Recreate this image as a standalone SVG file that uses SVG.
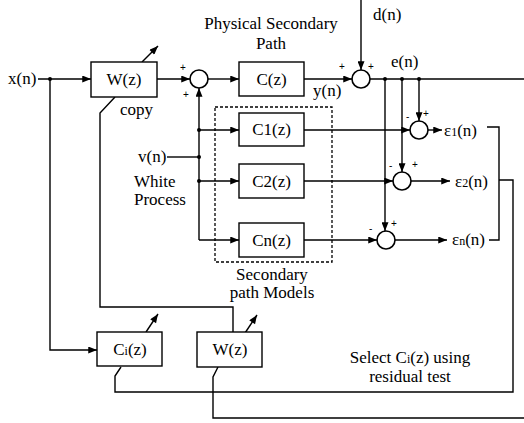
<svg xmlns="http://www.w3.org/2000/svg" width="524" height="423" viewBox="0 0 524 423">
<defs>
<marker id="ah" viewBox="0 0 10 8" refX="10" refY="4" markerWidth="10" markerHeight="7" markerUnits="userSpaceOnUse" orient="auto">
<path d="M0,0 L10,4 L0,8 Z" fill="#000"/>
</marker>
<style>
.ln{stroke:#000;stroke-width:1.4;fill:none}
.ar{stroke:#000;stroke-width:1.4;fill:none;marker-end:url(#ah)}
.box{fill:#fff;stroke:#000;stroke-width:1.4}
.sum{fill:#fff;stroke:#000;stroke-width:1.6}
.dash{fill:none;stroke:#000;stroke-width:1.3;stroke-dasharray:3,2}
.dot{fill:#000}
text{font-family:"Liberation Serif","Times New Roman",serif;font-size:17px;fill:#000}
.m{text-anchor:middle}
.sg{font-size:10px;font-family:"Liberation Sans",Arial,sans-serif}
.sub{font-size:12px}
</style>
</defs>
<rect width="524" height="423" fill="#fff"/>

<g id="connectors">
<path class="ar" d="M38,79 H91"/>
<path class="ar" d="M50,79 V350 H97"/>
<path class="ar" d="M157,79 H190"/>
<path class="ar" d="M208,79 H239"/>
<path class="ar" d="M304,79 H352"/>
<path class="ar" d="M361,0 V70"/>
<path class="ln" d="M370,79 H524"/>
<path class="ar" d="M419,79 V121"/>
<path class="ar" d="M402,79 V172"/>
<path class="ar" d="M385,79 V231"/>
<path class="ar" d="M304,130 H410"/>
<path class="ar" d="M304,181 H393"/>
<path class="ar" d="M304,240 H377"/>
<path class="ar" d="M199,240 V88"/>
<path class="ar" d="M199,240 H239"/>
<path class="ar" d="M199,130 H239"/>
<path class="ar" d="M199,181 H239"/>
<path class="ln" d="M167,157 H199"/>
<path class="ar" d="M428,130 H442"/>
<path class="ar" d="M411,181 H450"/>
<path class="ar" d="M395,240 H447"/>
<path class="ln" d="M487,127 H499 V240 H489"/>
<path class="ln" d="M499,180 H513 V392 H115 V376 L121,367"/>
<path class="ln" d="M218,367 L213,377 V418 H524"/>
<path class="ln" d="M115,97 L100,113 V307 H233 V332"/>
<path class="ar" d="M142,62 L158,46"/>
<path class="ar" d="M146,332 L158,314"/>
<path class="ar" d="M245,333 L257,315"/>
<circle class="dot" cx="50" cy="79" r="2"/>
<circle class="dot" cx="385" cy="79" r="2"/>
<circle class="dot" cx="402" cy="79" r="2"/>
<circle class="dot" cx="419" cy="79" r="2"/>
<circle class="dot" cx="199" cy="130" r="2"/>
<circle class="dot" cx="199" cy="157" r="2"/>
<circle class="dot" cx="199" cy="181" r="2"/>
</g>

<g id="dashed-models">
<rect class="dash" x="215" y="107" width="117" height="155"/>
<text class="m" x="272" y="280">Secondary</text>
<text class="m" x="272" y="298">path Models</text>
</g>

<g id="W1">
<rect class="box" x="91" y="62" width="66" height="35"/>
<text class="m" x="124" y="85">W(z)</text>
</g>
<g id="sum1">
<circle class="sum" cx="199" cy="79" r="9"/>
<text class="sg" x="180" y="71">+</text>
<text class="sg" x="183" y="98">+</text>
</g>
<g id="C">
<rect class="box" x="239" y="62" width="65" height="34"/>
<text class="m" x="271.5" y="85">C(z)</text>
</g>
<g id="sum2">
<circle class="sum" cx="361" cy="79" r="9"/>
<text class="sg" x="339" y="70">+</text>
<text class="sg" x="368" y="70">+</text>
</g>
<g id="C1">
<rect class="box" x="239" y="113" width="65" height="33"/>
<text class="m" x="271.5" y="135">C1(z)</text>
</g>
<g id="C2">
<rect class="box" x="239" y="164" width="65" height="34"/>
<text class="m" x="271.5" y="187">C2(z)</text>
</g>
<g id="Cn">
<rect class="box" x="239" y="223" width="65" height="34"/>
<text class="m" x="271.5" y="246">Cn(z)</text>
</g>
<g id="e1">
<circle class="sum" cx="419" cy="130" r="9"/>
<text class="sg" x="406" y="120">-</text>
<text class="sg" x="423" y="117">+</text>
</g>
<g id="e2">
<circle class="sum" cx="402" cy="181" r="9"/>
<text class="sg" x="389" y="169">-</text>
<text class="sg" x="412" y="168">+</text>
</g>
<g id="en">
<circle class="sum" cx="386" cy="240" r="9"/>
<text class="sg" x="369" y="232">-</text>
<text class="sg" x="391" y="227">+</text>
</g>
<g id="Ci">
<rect class="box" x="97" y="332" width="65" height="34"/>
<text class="m" x="130" y="355">C<tspan class="sub">i</tspan>(z)</text>
</g>
<g id="W2">
<rect class="box" x="197" y="332" width="65" height="35"/>
<text class="m" x="230" y="355">W(z)</text>
</g>

<g id="labels">
<text x="8" y="84">x(n)</text>
<text x="120" y="115">copy</text>
<text class="m" x="271" y="29">Physical Secondary</text>
<text class="m" x="271" y="49">Path</text>
<text x="373" y="20">d(n)</text>
<text x="391" y="67">e(n)</text>
<text x="313" y="96">y(n)</text>
<text x="138" y="162">v(n)</text>
<text x="134" y="187">White</text>
<text x="134" y="205">Process</text>
<text x="444" y="136">ε<tspan class="sub">1</tspan>(n)</text>
<text x="455" y="187">ε<tspan class="sub">2</tspan>(n)</text>
<text x="452" y="245">ε<tspan class="sub">n</tspan>(n)</text>
<text class="m" x="410" y="363">Select C<tspan class="sub">i</tspan>(z) using</text>
<text class="m" x="410" y="382">residual test</text>
</g>
</svg>
